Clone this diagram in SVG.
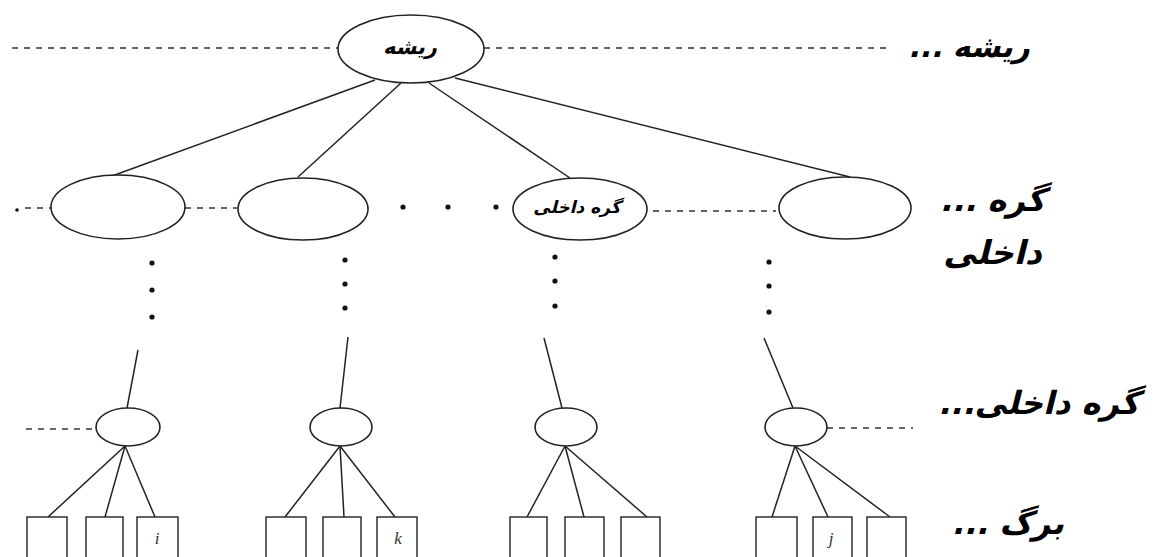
<svg xmlns="http://www.w3.org/2000/svg" width="1154" height="557" viewBox="0 0 1154 557">
<style>
.node{fill:#fff;stroke:#222;stroke-width:1.6}
.leaf{fill:#fff;stroke:#222;stroke-width:1.4}
.edge{stroke:#222;stroke-width:1.5;fill:none}
.dash{stroke:#333;stroke-width:1.3;stroke-dasharray:6 6;fill:none}
.dot{fill:#111}
.lbl{font-family:"DejaVu Sans",sans-serif;font-weight:bold;fill:#000}
.var{font-family:"Liberation Serif",serif;font-style:italic;font-size:17px;fill:#333}
</style>
<rect width="1154" height="557" fill="#fff"/>
<g id="connectors">
  <line class="dash" x1="12" y1="48" x2="338" y2="48"/>
  <line class="dash" x1="484" y1="48" x2="889" y2="48"/>
  <line class="dash" x1="25" y1="208" x2="51" y2="208"/>
  <line class="dash" x1="185" y1="208" x2="237" y2="208"/>
  <line class="dash" x1="653" y1="211" x2="776" y2="211"/>
  <line class="dash" x1="26" y1="429" x2="96" y2="429"/>
  <line class="dash" x1="827" y1="428" x2="913" y2="428"/>
  <line class="edge" x1="375" y1="80" x2="112" y2="176"/>
  <line class="edge" x1="401" y1="83" x2="298" y2="177"/>
  <line class="edge" x1="429" y1="83" x2="570" y2="178"/>
  <line class="edge" x1="455" y1="78" x2="850" y2="177"/>
  <line class="edge" x1="138" y1="350" x2="127" y2="408"/>
  <line class="edge" x1="348" y1="337" x2="340" y2="408"/>
  <line class="edge" x1="544" y1="338" x2="562" y2="408"/>
  <line class="edge" x1="764" y1="338" x2="793" y2="408"/>
  <line class="edge" x1="125" y1="446" x2="48" y2="517"/>
  <line class="edge" x1="125" y1="446" x2="105" y2="517"/>
  <line class="edge" x1="125" y1="446" x2="155" y2="517"/>
  <line class="edge" x1="340" y1="446" x2="285" y2="517"/>
  <line class="edge" x1="340" y1="446" x2="344" y2="517"/>
  <line class="edge" x1="340" y1="446" x2="395" y2="517"/>
  <line class="edge" x1="565" y1="446" x2="527" y2="517"/>
  <line class="edge" x1="565" y1="446" x2="584" y2="517"/>
  <line class="edge" x1="565" y1="446" x2="647" y2="517"/>
  <line class="edge" x1="795" y1="446" x2="772" y2="517"/>
  <line class="edge" x1="795" y1="446" x2="828" y2="517"/>
  <line class="edge" x1="795" y1="446" x2="890" y2="517"/>
  <circle class="dot" cx="17" cy="210" r="1.8"/>
  <circle class="dot" cx="403" cy="207" r="2.6"/>
  <circle class="dot" cx="448" cy="207" r="2.6"/>
  <circle class="dot" cx="496" cy="207" r="2.6"/>
  <circle class="dot" cx="152" cy="263" r="2.6"/>
  <circle class="dot" cx="152" cy="290" r="2.6"/>
  <circle class="dot" cx="152" cy="317" r="2.6"/>
  <circle class="dot" cx="345" cy="260" r="2.6"/>
  <circle class="dot" cx="345" cy="284" r="2.6"/>
  <circle class="dot" cx="345" cy="308" r="2.6"/>
  <circle class="dot" cx="555" cy="257" r="2.6"/>
  <circle class="dot" cx="555" cy="281" r="2.6"/>
  <circle class="dot" cx="555" cy="306" r="2.6"/>
  <circle class="dot" cx="769" cy="262" r="2.6"/>
  <circle class="dot" cx="769" cy="286" r="2.6"/>
  <circle class="dot" cx="769" cy="312" r="2.6"/>
</g>
<g id="root">
  <ellipse class="node" cx="411" cy="49" rx="73" ry="34"/>
  <g transform="translate(410,54) skewX(-14)"><text class="lbl" x="0" y="0" font-size="21" text-anchor="middle" direction="rtl">ریشه</text></g>
</g>
<g id="n1"><ellipse class="node" cx="118" cy="207" rx="67" ry="32"/></g>
<g id="n2"><ellipse class="node" cx="303" cy="209" rx="65" ry="31"/></g>
<g id="n3">
  <ellipse class="node" cx="580" cy="209" rx="67" ry="31"/>
  <g transform="translate(577,213) skewX(-14)"><text class="lbl" x="0" y="0" font-size="17" text-anchor="middle" direction="rtl">گره داخلی</text></g>
</g>
<g id="n4"><ellipse class="node" cx="845" cy="208" rx="66" ry="31"/></g>
<g id="s1"><ellipse class="node" cx="128" cy="427" rx="32" ry="19"/></g>
<g id="s2"><ellipse class="node" cx="341" cy="427" rx="31" ry="19"/></g>
<g id="s3"><ellipse class="node" cx="566" cy="427" rx="31" ry="19"/></g>
<g id="s4"><ellipse class="node" cx="796" cy="427" rx="31" ry="19"/></g>
<g id="leaves1">
  <rect class="leaf" x="27" y="517" width="40" height="45"/>
  <rect class="leaf" x="86" y="517" width="37" height="45"/>
  <rect class="leaf" x="137" y="517" width="41" height="45"/>
  <text class="var" x="157" y="544" text-anchor="middle">i</text>
</g>
<g id="leaves2">
  <rect class="leaf" x="266" y="517" width="40" height="45"/>
  <rect class="leaf" x="323" y="517" width="38" height="45"/>
  <rect class="leaf" x="377" y="517" width="40" height="45"/>
  <text class="var" x="398" y="544" text-anchor="middle">k</text>
</g>
<g id="leaves3">
  <rect class="leaf" x="510" y="517" width="37" height="45"/>
  <rect class="leaf" x="565" y="517" width="39" height="45"/>
  <rect class="leaf" x="621" y="517" width="39" height="45"/>
</g>
<g id="leaves4">
  <rect class="leaf" x="756" y="517" width="41" height="45"/>
  <rect class="leaf" x="813" y="517" width="39" height="45"/>
  <rect class="leaf" x="867" y="517" width="39" height="45"/>
  <text class="var" x="831" y="544" text-anchor="middle">j</text>
</g>
<g id="labels">
  <g transform="translate(1030,57) skewX(-14)"><text class="lbl" x="0" y="0" font-size="30" text-anchor="start" direction="rtl">ریشه ...</text></g>
  <g transform="translate(1045,211) skewX(-14)"><text class="lbl" x="0" y="0" font-size="32" text-anchor="start" direction="rtl">گره ...</text></g>
  <g transform="translate(1042,264) skewX(-14)"><text class="lbl" x="0" y="0" font-size="33" text-anchor="start" direction="rtl">داخلی</text></g>
  <g transform="translate(1139,414) skewX(-14)"><text class="lbl" x="0" y="0" font-size="32" text-anchor="start" direction="rtl">گره داخلی...</text></g>
  <g transform="translate(1064,534) skewX(-14)"><text class="lbl" x="0" y="0" font-size="32" text-anchor="start" direction="rtl">برگ ...</text></g>
</g>
</svg>
